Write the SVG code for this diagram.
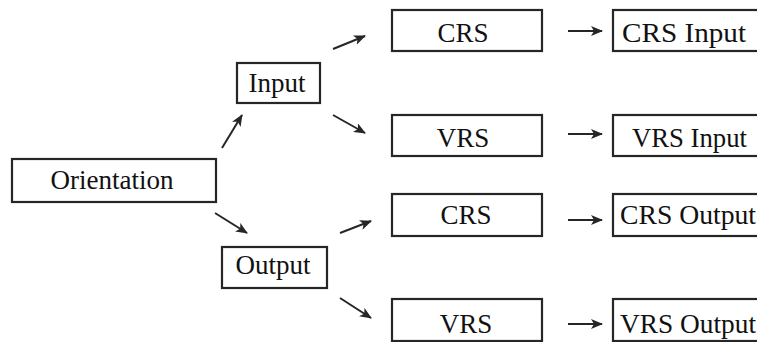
<svg xmlns="http://www.w3.org/2000/svg" width="757" height="342" viewBox="0 0 757 342">
  <style>
    .box { fill: #fff; stroke: #262626; stroke-width: 2.2; }
    .lbl { font-family: "Liberation Serif", "Times New Roman", serif; font-size: 27px; fill: #111; }
    .mid { text-anchor: middle; }
    .edge { stroke: #262626; stroke-width: 2; fill: none; marker-end: url(#head); }
  </style>
  <defs>
    <marker id="head" viewBox="0 0 12 10" refX="11" refY="5" markerWidth="12" markerHeight="10" markerUnits="userSpaceOnUse" orient="auto">
      <path d="M0,0 L12,5 L0,10 L3,5 Z" fill="#262626"/>
    </marker>
  </defs>
  <rect width="757" height="342" fill="#fff"/>

  <g id="connectors">
    <line class="edge" x1="222" y1="148" x2="242" y2="115"/>
    <line class="edge" x1="215" y1="213" x2="247" y2="233"/>
    <line class="edge" x1="333" y1="49" x2="365" y2="36"/>
    <line class="edge" x1="333" y1="115" x2="365" y2="133"/>
    <line class="edge" x1="340" y1="233" x2="371" y2="221"/>
    <line class="edge" x1="340" y1="298" x2="371" y2="318"/>
    <line class="edge" x1="568" y1="31" x2="602" y2="31"/>
    <line class="edge" x1="568" y1="134" x2="602" y2="134"/>
    <line class="edge" x1="568" y1="220" x2="602" y2="220"/>
    <line class="edge" x1="568" y1="324" x2="602" y2="324"/>
  </g>

  <g id="orientation">
    <rect class="box" x="12" y="159" width="204" height="43"/>
    <text class="lbl mid" x="112" y="189">Orientation</text>
  </g>
  <g id="input">
    <rect class="box" x="237" y="63" width="83" height="40"/>
    <text class="lbl mid" x="277" y="92">Input</text>
  </g>
  <g id="output">
    <rect class="box" x="222" y="247" width="105" height="41"/>
    <text class="lbl mid" x="273" y="274">Output</text>
  </g>
  <g id="crs-in">
    <rect class="box" x="392" y="10" width="150" height="41"/>
    <text class="lbl mid" x="463" y="42">CRS</text>
  </g>
  <g id="vrs-in">
    <rect class="box" x="392" y="115" width="150" height="41"/>
    <text class="lbl mid" x="463" y="147">VRS</text>
  </g>
  <g id="crs-out">
    <rect class="box" x="392" y="194" width="150" height="42"/>
    <text class="lbl mid" x="466" y="224">CRS</text>
  </g>
  <g id="vrs-out">
    <rect class="box" x="392" y="299" width="150" height="42"/>
    <text class="lbl mid" x="466" y="333">VRS</text>
  </g>
  <g id="crs-input">
    <rect class="box" x="613" y="10" width="160" height="41"/>
    <text class="lbl" x="622" y="42" textLength="124" lengthAdjust="spacingAndGlyphs">CRS Input</text>
  </g>
  <g id="vrs-input">
    <rect class="box" x="613" y="115" width="160" height="41"/>
    <text class="lbl" x="632" y="147" textLength="115" lengthAdjust="spacingAndGlyphs">VRS Input</text>
  </g>
  <g id="crs-output">
    <rect class="box" x="613" y="194" width="160" height="42"/>
    <text class="lbl" x="620" y="224" textLength="136" lengthAdjust="spacingAndGlyphs">CRS Output</text>
  </g>
  <g id="vrs-output">
    <rect class="box" x="613" y="299" width="160" height="42"/>
    <text class="lbl" x="620" y="333" textLength="136" lengthAdjust="spacingAndGlyphs">VRS Output</text>
  </g>
</svg>
